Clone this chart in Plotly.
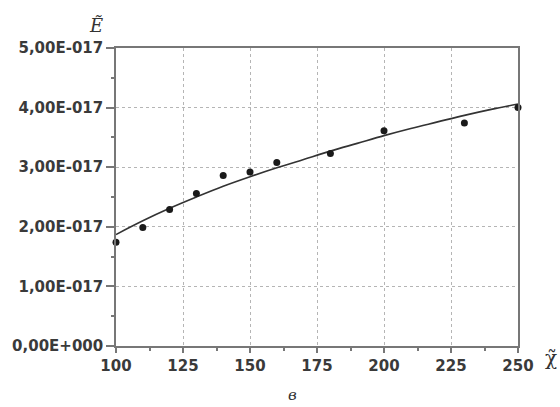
import plotly.graph_objects as go

# measured points
chi_pts = [100, 110, 120, 130, 140, 150, 160, 180, 200, 230, 250]
e_pts = [1.74e-17, 1.99e-17, 2.29e-17, 2.56e-17, 2.86e-17, 2.92e-17, 3.08e-17,
         3.23e-17, 3.61e-17, 3.74e-17, 4.00e-17]

# fitted curve
chi_fit = [100, 110, 120, 130, 140, 150, 160, 170, 180, 190, 200, 210, 220, 230, 240, 250]
e_fit = [1.87e-17, 2.10e-17, 2.31e-17, 2.50e-17, 2.68e-17, 2.84e-17, 2.99e-17, 3.13e-17,
         3.27e-17, 3.40e-17, 3.53e-17, 3.65e-17, 3.76e-17, 3.87e-17, 3.97e-17, 4.06e-17]

x_ticks = [100, 125, 150, 175, 200, 225, 250]
y_ticks = [0, 1e-17, 2e-17, 3e-17, 4e-17, 5e-17]
y_ticktext = ["0,00E+000", "1,00E-017", "2,00E-017", "3,00E-017", "4,00E-017", "5,00E-017"]

fig = go.Figure()
fig.add_trace(go.Scatter(x=chi_fit, y=e_fit, mode="lines",
                         line=dict(color="#333333", width=1.6, shape="spline"),
                         showlegend=False, hoverinfo="skip"))
fig.add_trace(go.Scatter(x=chi_pts, y=e_pts, mode="markers",
                         marker=dict(color="#1a1a1a", size=7),
                         showlegend=False, cliponaxis=False))

tick_font = dict(family="DejaVu Sans", size=15, color="#3a3a3a", weight="bold")

fig.update_xaxes(range=[100, 250], tickvals=x_ticks, ticktext=[str(v) for v in x_ticks],
                 showgrid=True, gridcolor="#b5b5b5", griddash="dot", gridwidth=1,
                 showline=True, linecolor="#777777", linewidth=1.5, mirror=True,
                 ticks="outside", ticklen=5, tickcolor="#777777", tickwidth=1.5,
                 minor=dict(dtick=12.5, tick0=100, ticks="outside", ticklen=3,
                            tickcolor="#777777", showgrid=False),
                 tickfont=tick_font, zeroline=False)
fig.update_yaxes(range=[0, 5e-17], tickvals=y_ticks, ticktext=y_ticktext,
                 showgrid=True, gridcolor="#b5b5b5", griddash="dot", gridwidth=1,
                 showline=True, linecolor="#777777", linewidth=1.5, mirror=True,
                 ticks="outside", ticklen=8, tickcolor="#777777", tickwidth=1.5,
                 minor=dict(dtick=0.5e-17, tick0=0, ticks="outside", ticklen=3,
                            tickcolor="#777777", showgrid=False),
                 tickfont=tick_font, zeroline=False)

serif = "DejaVu Serif"
fig.update_layout(
    width=560, height=407,
    margin=dict(l=116, r=42, t=48, b=61),
    paper_bgcolor="white", plot_bgcolor="white",
    font=dict(family="Liberation Sans", color="#333333"),
    annotations=[
        dict(text="<i>Ẽ</i>", xref="paper", yref="paper", x=-0.05, y=1.0,
             xanchor="center", yanchor="bottom", yshift=10, showarrow=False,
             font=dict(family=serif, size=18, color="#333333")),
        dict(text="χ̃", xref="paper", yref="paper", x=1.082, y=-0.04,
             xanchor="center", yanchor="middle", showarrow=False,
             font=dict(family=serif, size=20, color="#333333")),
        dict(text="<i>в</i>", xref="paper", yref="paper", x=0.438, y=-0.166,
             xanchor="center", yanchor="middle", showarrow=False,
             font=dict(family=serif, size=15, color="#333333")),
    ],
)

fig.write_html("out.html")
